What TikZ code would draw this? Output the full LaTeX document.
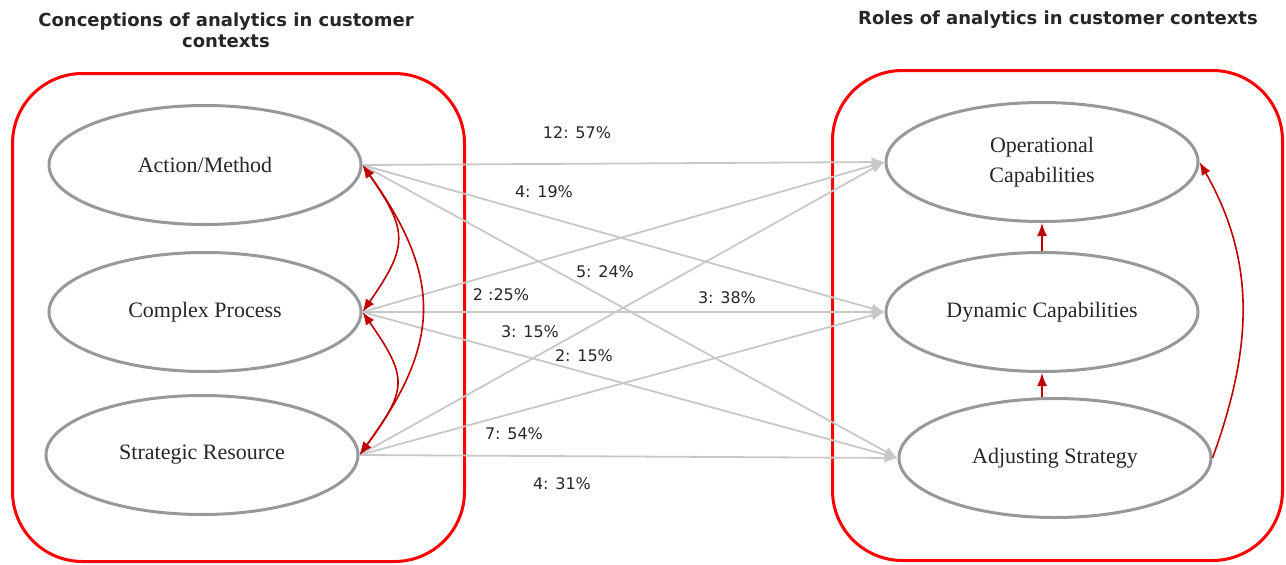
\documentclass[tikz,border=0pt]{standalone}
\usepackage{fontspec}
\setmainfont{Liberation Serif}
\newfontfamily\labelfont{DejaVu Sans}
\usetikzlibrary{shapes.geometric,arrows.meta}
\definecolor{ellgray}{RGB}{152,152,155}
\definecolor{linkgray}{RGB}{200,200,200}
\definecolor{darkred}{RGB}{192,0,0}
\definecolor{txt}{RGB}{38,38,38}
\tikzset{
  concept/.style={shape=ellipse,draw=ellgray,line width=3pt,minimum width=312pt,
    minimum height=119pt,inner sep=0pt,text=txt,align=center,
    font=\fontsize{22}{30}\selectfont},
  frame/.style={draw=red,line width=3pt,rounded corners=70pt},
  link/.style={->,draw=linkgray,line width=1.8pt},
  feedback/.style={draw=darkred,line width=1.6pt},
  share/.style={text=txt,font=\labelfont\fontsize{16}{19}\selectfont},
  heading/.style={text=txt,align=center,font=\labelfont\bfseries\fontsize{18}{21}\selectfont}
}
\begin{document}
\begin{tikzpicture}[x=1pt,y=1pt,>={Latex[length=13pt,width=10pt]}]
\useasboundingbox (0,0) rectangle (1286,-565);
% the two groups
\draw[frame] (12.5,-73.5) rectangle (464.5,-561.5);
\draw[frame] (832.5,-70.5) rectangle (1282.5,-560.5);
\node (lefthead)  at (226,-30.5) [heading] {Conceptions of analytics in customer\\contexts};
\node (righthead) at (1058,-20)  [heading] {Roles of analytics in customer contexts};
% conceptions
\node (action)    at (205,-165) [concept] {Action/Method};
\node (complex)   at (205,-312) [concept] {Complex Process};
\node (strategic) at (202,-455) [concept] {Strategic Resource};
% roles
\node (operational) at (1042,-162) [concept] {Operational\\Capabilities};
\node (dynamic)     at (1042,-312) [concept] {Dynamic Capabilities};
\node (adjusting)   at (1055,-458) [concept] {Adjusting Strategy};
% links between conceptions and roles
\draw [link] (action.east) -- (operational.west);
\draw [link] (action.east) -- (dynamic.west);
\draw [link] (action.east) -- (adjusting.west);
\draw [link] (complex.east) -- (operational.west);
\draw [link] (complex.east) -- (dynamic.west);
\draw [link] (complex.east) -- (adjusting.west);
\draw [link] (strategic.east) -- (operational.west);
\draw [link] (strategic.east) -- (dynamic.west);
\draw [link] (strategic.east) -- (adjusting.west);
\node (s1) at (577,-133) [share] {12: 57\%};
\node (s2) at (544,-192) [share] {4: 19\%};
\node (s3) at (605,-272) [share] {5: 24\%};
\node (s4) at (501,-295) [share] {2 :25\%};
\node (s5) at (727,-298) [share] {3: 38\%};
\node (s6) at (530,-332) [share] {3: 15\%};
\node (s7) at (584,-356) [share] {2: 15\%};
\node (s8) at (514,-434) [share] {7: 54\%};
\node (s9) at (562,-484) [share] {4: 31\%};
% relations inside the groups
\draw [feedback,<->] (action.east) .. controls +(46,-66) and +(46,66) .. (complex.east);
\draw [feedback,<->] (complex.east) .. controls +(46,-66) and +(48,66) .. (strategic.east);
\draw [feedback,<->] (action.east) .. controls +(80,-112) and +(82,112) .. (strategic.east);
\draw [feedback,->] (dynamic.north) -- (operational.south);
\draw [feedback,->] (dynamic.south |- adjusting.north) -- (dynamic.south);
\draw [feedback,->] (adjusting.east) .. controls +(40,110) and +(57,-100) .. (operational.east);
\end{tikzpicture}
\end{document}
